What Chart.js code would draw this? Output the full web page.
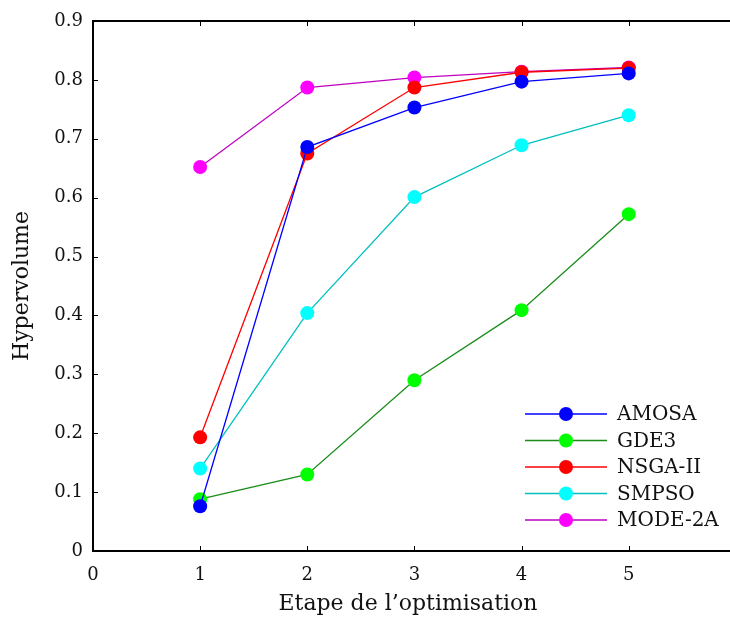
<!DOCTYPE html>
<html>
<head>
<meta charset="utf-8">
<script src="https://cdn.jsdelivr.net/npm/chart.js@4.4.1/dist/chart.umd.min.js"></script>
<style>
  html, body { margin: 0; padding: 0; background: #fff; }
  #wrap { width: 730px; height: 617px; position: relative; }
</style>
</head>
<body>
<div id="wrap"><canvas id="c" width="730" height="617"></canvas></div>
<script>
const steps = [1, 2, 3, 4, 5];
const seriesNames = ['AMOSA', 'GDE3', 'NSGA-II', 'SMPSO', 'MODE-2A'];
const amosa  = [0.076, 0.686, 0.753, 0.797, 0.811];
const gde3   = [0.088, 0.130, 0.290, 0.409, 0.572];
const nsga2  = [0.193, 0.675, 0.787, 0.813, 0.820];
const smpso  = [0.140, 0.404, 0.601, 0.689, 0.740];
const mode2a = [0.652, 0.787, 0.804, 0.814, 0.821];
const xTicks = [0, 1, 2, 3, 4, 5];
const yTicks = [0, 0.1, 0.2, 0.3, 0.4, 0.5, 0.6, 0.7, 0.8, 0.9];

const lineColors   = ['#0000ff', '#1a8c1a', '#ff0000', '#00c0c0', '#c000c0'];
const markerColors = ['#0000ff', '#00ff00', '#ff0000', '#00ffff', '#ff00ff'];
const values = [amosa, gde3, nsga2, smpso, mode2a];

const FONT = '"DejaVu Serif", serif';

const datasets = seriesNames.map((name, i) => ({
  label: name,
  data: steps.map((s, j) => ({ x: s, y: values[i][j] })),
  borderColor: lineColors[i],
  backgroundColor: markerColors[i],
  pointBackgroundColor: markerColors[i],
  pointBorderColor: markerColors[i],
  borderWidth: 1.3,
  pointRadius: 7,
  pointBorderWidth: 0,
  pointHoverRadius: 7,
  tension: 0,
  clip: false
}));

const framePlugin = {
  id: 'frame',
  afterDatasetsDraw(chart) {
    const { ctx, chartArea: a, scales } = chart;
    ctx.save();
    ctx.strokeStyle = '#000';
    ctx.lineWidth = 1;
    const tl = 5;
    xTicks.forEach(v => {
      const px = Math.round(scales.x.getPixelForValue(v)) + 0.5;
      ctx.beginPath();
      ctx.moveTo(px, a.bottom); ctx.lineTo(px, a.bottom - tl);
      ctx.moveTo(px, a.top); ctx.lineTo(px, a.top + tl);
      ctx.stroke();
    });
    yTicks.forEach(v => {
      const py = Math.round(scales.y.getPixelForValue(v)) + 0.5;
      ctx.beginPath();
      ctx.moveTo(a.left, py); ctx.lineTo(a.left + tl, py);
      ctx.stroke();
    });
    ctx.lineWidth = 2;
    ctx.beginPath();
    ctx.moveTo(chart.width, a.top);
    ctx.lineTo(a.left, a.top);
    ctx.lineTo(a.left, a.bottom);
    ctx.lineTo(chart.width, a.bottom);
    ctx.stroke();

    // legend (line with marker)
    ctx.font = '20px ' + FONT;
    ctx.textBaseline = 'middle';
    ctx.textAlign = 'left';
    const x0 = 525, x1 = 607, xm = 566, xt = 617;
    const y0 = 414, dy = 26.5;
    chart.data.datasets.forEach((ds, i) => {
      const y = y0 + i * dy;
      ctx.strokeStyle = ds.borderColor;
      ctx.lineWidth = 1.3;
      ctx.beginPath();
      ctx.moveTo(x0, y); ctx.lineTo(x1, y);
      ctx.stroke();
      ctx.fillStyle = ds.pointBackgroundColor;
      ctx.beginPath();
      ctx.arc(xm, y, 7, 0, Math.PI * 2);
      ctx.fill();
      ctx.fillStyle = '#111';
      ctx.fillText(ds.label, xt, y + 1);
    });
    ctx.restore();
  }
};

new Chart(document.getElementById('c'), {
  type: 'line',
  data: { datasets },
  options: {
    responsive: false,
    animation: false,
    devicePixelRatio: 1,
    layout: { padding: { top: 21, right: 0, left: 0, bottom: 0 } },
    plugins: { legend: { display: false }, tooltip: { enabled: false } },
    scales: {
      x: {
        type: 'linear',
        min: 0,
        max: 5.88,
        afterFit(s) { s.height = 66; },
        afterBuildTicks(s) { s.ticks = xTicks.map(v => ({ value: v })); },
        grid: { display: false, drawTicks: false },
        border: { display: false },
        ticks: {
          color: '#111',
          font: { family: FONT, size: 18 },
          padding: 14,
          callback: v => String(v)
        },
        title: {
          display: true,
          text: 'Etape de l\u2019optimisation',
          color: '#111',
          font: { family: FONT, size: 22 },
          padding: { top: 10, bottom: 0 }
        }
      },
      y: {
        type: 'linear',
        min: 0,
        max: 0.9,
        afterFit(s) { s.width = 93; },
        afterBuildTicks(s) { s.ticks = yTicks.map(v => ({ value: v })); },
        grid: { display: false, drawTicks: false },
        border: { display: false },
        ticks: {
          color: '#111',
          font: { family: FONT, size: 18 },
          padding: 10,
          callback: v => (v === 0 ? '0' : v.toFixed(1))
        },
        title: {
          display: true,
          text: 'Hypervolume',
          color: '#111',
          font: { family: FONT, size: 22 },
          padding: { top: 9, bottom: 0 }
        }
      }
    }
  },
  plugins: [framePlugin]
});
</script>
</body>
</html>
